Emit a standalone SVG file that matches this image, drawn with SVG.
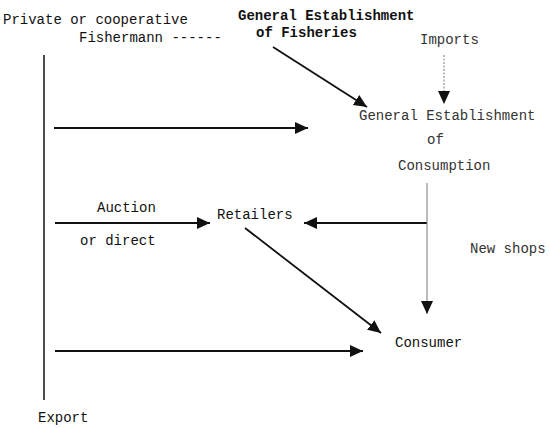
<svg xmlns="http://www.w3.org/2000/svg" width="550" height="428" viewBox="0 0 550 428">
<defs>
<style>
text{font-family:"Liberation Mono","Courier New",monospace;font-size:14px;fill:#111}
.b{font-weight:bold}
.l{fill:#333}
.c{stroke:#111;stroke-width:1.8;fill:none}
.d{stroke:#777;stroke-width:1;stroke-dasharray:2 1.5;fill:none}
.t{stroke:#777;stroke-width:1;fill:none}
</style>
<marker id="ah" markerUnits="userSpaceOnUse" markerWidth="14" markerHeight="12" refX="13" refY="6" orient="auto">
<path d="M0,0 L13,6 L0,12 Z" fill="#111"/>
</marker>
</defs>
<rect width="550" height="428" fill="#fff"/>
<g id="connectors">
<line class="c" x1="44" y1="55" x2="44" y2="400" style="stroke-width:1.5"/>
<line class="c" x1="273" y1="47" x2="367" y2="107" marker-end="url(#ah)"/>
<line class="d" x1="444" y1="55" x2="444" y2="104" marker-end="url(#ah)"/>
<line class="c" x1="54" y1="128" x2="308" y2="128" marker-end="url(#ah)"/>
<line class="c" x1="55" y1="223" x2="210" y2="223" marker-end="url(#ah)"/>
<line class="c" x1="427" y1="223" x2="304" y2="223" marker-end="url(#ah)"/>
<line class="t" x1="427" y1="183" x2="427" y2="314" marker-end="url(#ah)"/>
<line class="c" x1="245" y1="228" x2="381" y2="333" marker-end="url(#ah)"/>
<line class="c" x1="55" y1="351" x2="363" y2="351" marker-end="url(#ah)"/>
</g>
<g id="fishermann">
<text x="3" y="24">Private or cooperative</text>
<text x="79" y="42">Fishermann ------</text>
</g>
<g id="ge-fisheries">
<text class="b" x="238" y="20">General Establishment</text>
<text class="b" x="256" y="37">of Fisheries</text>
</g>
<g id="imports"><text class="l" x="420" y="44">Imports</text></g>
<g id="ge-consumption">
<text class="l" x="359" y="120">General Establishment</text>
<text class="l" x="427" y="144">of</text>
<text class="l" x="398" y="170">Consumption</text>
</g>
<g id="auction">
<text x="97" y="212">Auction</text>
<text x="80" y="245">or direct</text>
</g>
<g id="retailers"><text x="217" y="219">Retailers</text></g>
<g id="new-shops"><text class="l" x="470" y="253">New shops</text></g>
<g id="consumer"><text x="395" y="347">Consumer</text></g>
<g id="export"><text x="38" y="422">Export</text></g>
</svg>
